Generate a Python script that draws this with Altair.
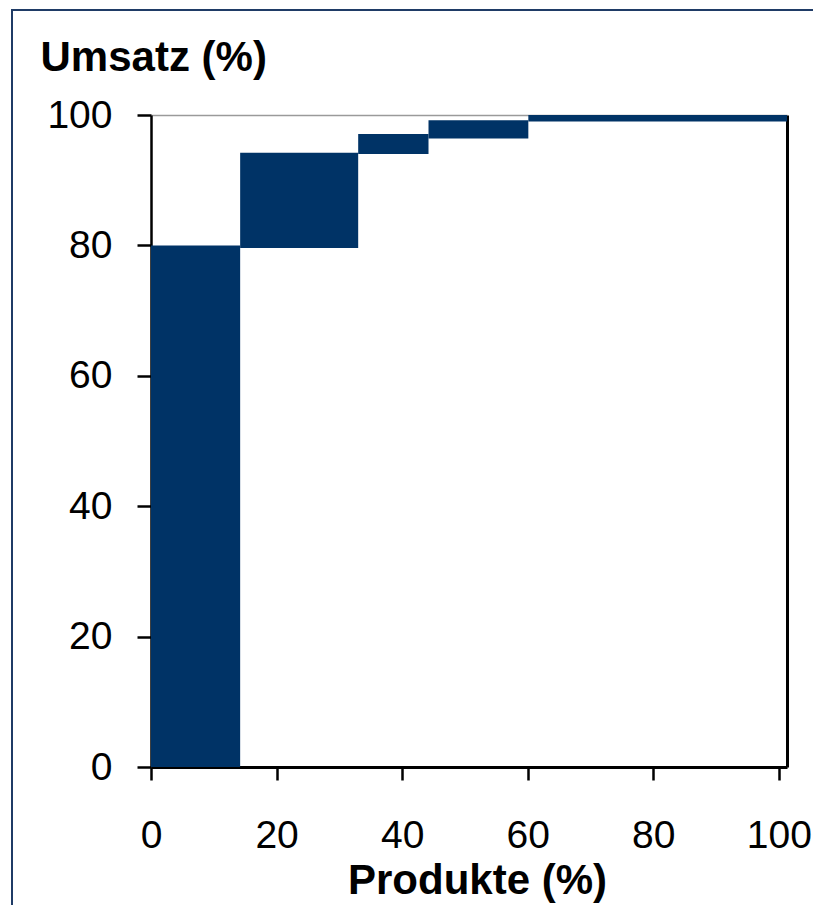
import altair as alt
import pandas as pd

# Pareto steps: product share (x) vs. cumulative revenue share (y)
x_start = [0, 14.2, 33.0, 44.2, 60.1]
x_end = [14.2, 33.0, 44.2, 60.1, 101.3]
y_start = [0, 79.6, 94.0, 96.4, 99.0]
y_end = [80.0, 94.2, 97.1, 99.2, 100.0]

x_ticks = [0, 20, 40, 60, 80, 100]
y_ticks = [0, 20, 40, 60, 80, 100]

df = pd.DataFrame({"x0": x_start, "x1": x_end, "y0": y_start, "y1": y_end})

FONT = "Liberation Sans"
NAVY = "#003366"

xs = alt.Scale(domain=[0, 101.3], nice=False, zero=False)
ys = alt.Scale(domain=[0, 100], nice=False, zero=False)

bars = alt.Chart(df).mark_rect(color=NAVY).encode(
    x=alt.X("x0:Q", scale=xs, axis=alt.Axis(
        values=x_ticks, title="Produkte (%)", grid=False,
        labelFont=FONT, labelFontSize=39, labelColor="black",
        labelBaseline="alphabetic", labelPadding=67, labelFlush=False,
        tickSize=13, tickWidth=2.5, tickColor="black",
        domainColor="black", domainWidth=3,
        titleFont=FONT, titleFontSize=42, titleFontWeight="bold", titleColor="black",
        titleX=326, titleY=126, titleBaseline="alphabetic", titleAlign="center")),
    x2="x1:Q",
    y=alt.Y("y0:Q", scale=ys, axis=alt.Axis(
        values=y_ticks, title="Umsatz (%)", grid=False,
        labelFont=FONT, labelFontSize=39, labelColor="black",
        labelPadding=25, labelFlush=False,
        tickSize=14, tickWidth=2.5, tickColor="black",
        domainColor="black", domainWidth=2.5,
        titleFont=FONT, titleFontSize=42, titleFontWeight="bold", titleColor="black",
        titleAngle=0, titleX=-111, titleY=-45, titleAlign="left",
        titleBaseline="alphabetic")),
    y2="y1:Q",
)

frame = alt.Chart(df).mark_rect(opacity=0).encode(
    x=alt.X("x0:Q", scale=xs, axis=alt.Axis(
        orient="top", labels=False, ticks=False, grid=False, title=None,
        domainColor="#9a9a9a", domainWidth=1.5)),
    x2="x1:Q",
    y=alt.Y("y0:Q", scale=ys, axis=alt.Axis(
        orient="right", labels=False, ticks=False, grid=False, title=None,
        domainColor="black", domainWidth=3)),
    y2="y1:Q",
)

border = alt.Chart(df).mark_rect(
    fill=None, stroke="#1f3b66", strokeWidth=2
).encode(
    x=alt.value(-139), x2=alt.value(700), y=alt.value(-105), y2=alt.value(820)
).transform_filter(alt.datum.x0 == 0)

chart = alt.layer(border, bars, frame).resolve_axis(
    x="independent", y="independent"
).properties(
    width=636, height=652,
    autosize=alt.AutoSizeParams(type="none"),
    padding={"left": 143, "top": 107, "right": 26, "bottom": 138},
    background="white",
).configure_view(stroke=None)

chart.save("out.html", embed_options={"renderer": "svg", "actions": False})
